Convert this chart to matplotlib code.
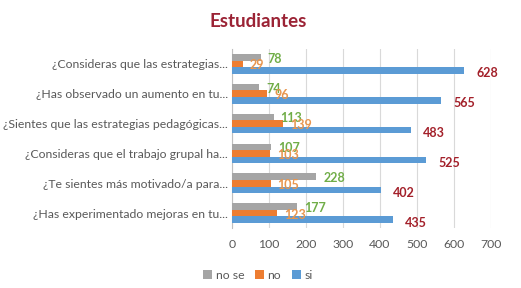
import matplotlib
matplotlib.use("Agg")
import matplotlib.pyplot as plt
import numpy as np

categories = [
    "¿Consideras que las estrategias...",
    "¿Has observado un aumento en tu...",
    "¿Sientes que las estrategias pedagógicas...",
    "¿Consideras que el trabajo grupal ha...",
    "¿Te sientes más motivado/a para...",
    "¿Has experimentado mejoras en tu...",
]
no_se = [78, 74, 113, 107, 228, 177]
no = [29, 96, 139, 103, 105, 123]
si = [628, 565, 483, 525, 402, 435]
series_names = ["no se", "no", "si"]
xticks = [0, 100, 200, 300, 400, 500, 600, 700]

plt.rcParams['font.family'] = ['Lato', 'DejaVu Sans']

fig = plt.figure(figsize=(5.21, 2.88), dpi=100)
ax = fig.add_axes([0.445, 0.208, 0.497, 0.622])

y = np.arange(len(categories))
h = 0.22
colors = ["#A5A5A5", "#ED7D31", "#5B9BD5"]
label_colors = ["#70AD47", "#E8964F", "#A3202A"]
offsets = [-h, 0, h]
for vals, name, c, lc, off in zip([no_se, no, si], series_names, colors, label_colors, offsets):
    bars = ax.barh(y + off, vals, height=h, color=c, label=name, zorder=3)
    for b, v in zip(bars, vals):
        ax.annotate(str(v), (b.get_width(), b.get_y() + b.get_height() / 2),
                    xytext=(5 if name != "si" else 9, -1 if name != "si" else -2),
                    textcoords="offset points", ha="left", va="center",
                    color=lc, fontsize=9, fontweight="bold", zorder=4)

ax.set_ylim(len(categories) - 0.5, -0.5)
ax.set_xlim(0, 700)
ax.set_xticks(xticks)
ax.set_yticks(y)
ax.set_yticklabels(categories)
ax.tick_params(axis="both", length=0, labelsize=8.8, colors="#595959")
ax.tick_params(axis="x", pad=8)
ax.tick_params(axis="y", pad=3)
ax.grid(axis="x", color="#D9D9D9", linewidth=0.8, zorder=0)
for s in ["top", "right", "bottom"]:
    ax.spines[s].set_visible(False)
ax.spines["left"].set_color("#BFBFBF")

fig.text(0.495, 0.925, "Estudiantes", ha="center", va="center",
         fontsize=13.5, fontweight="bold", color="#9B2335")

handles, labels = ax.get_legend_handles_labels()
fig.legend(handles, labels, loc="center", bbox_to_anchor=(0.495, 0.045), ncol=3,
           frameon=False, fontsize=8.8, handlelength=0.7, handleheight=0.7,
           columnspacing=0.9, handletextpad=0.3, labelcolor="#595959")

fig.savefig("out.png", dpi=100)
